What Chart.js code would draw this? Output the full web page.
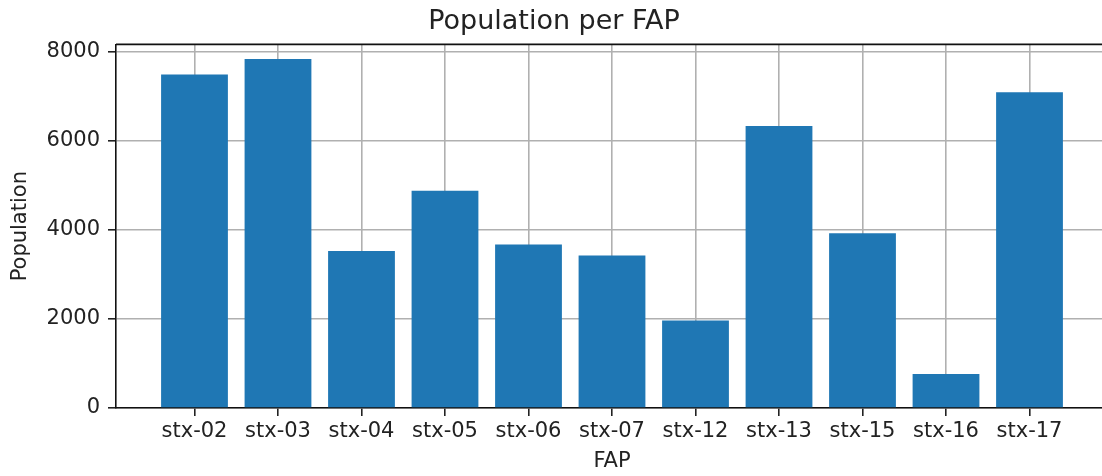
<!DOCTYPE html>
<html>
<head>
<meta charset="utf-8">
<script src="https://cdn.jsdelivr.net/npm/chart.js@4"></script>
<style>
  html, body { margin: 0; padding: 0; background: #fff; overflow: hidden; }
  #wrap { width: 1120px; height: 476px; }
</style>
</head>
<body>
<div id="wrap"><canvas id="popChart"></canvas></div>
<script>
// data
const faps = ["stx-02", "stx-03", "stx-04", "stx-05", "stx-06", "stx-07", "stx-12", "stx-13", "stx-15", "stx-16", "stx-17"];
const population = [7488, 7833, 3527, 4877, 3669, 3421, 1967, 6333, 3925, 765, 7090];
const yTicks = [0, 2000, 4000, 6000, 8000];

const FONT = "'DejaVu Sans', sans-serif";
const TEXT = "#222";

// matplotlib draws the top spine too
const topSpine = {
  id: "topSpine",
  afterDraw(chart) {
    const { ctx, chartArea } = chart;
    ctx.save();
    ctx.strokeStyle = "#111";
    ctx.lineWidth = 1.6;
    ctx.beginPath();
    ctx.moveTo(chartArea.left, chartArea.top);
    ctx.lineTo(chartArea.right, chartArea.top);
    ctx.stroke();
    ctx.restore();
  }
};

new Chart(document.getElementById("popChart"), {
  type: "bar",
  data: {
    datasets: [{
      label: "Population",
      data: population.map((v, i) => ({ x: i, y: v })),
      backgroundColor: "#1f77b4",
      borderWidth: 0,
      barPercentage: 0.8,
      categoryPercentage: 1.0,
    }],
  },
  options: {
    responsive: true,
    maintainAspectRatio: false,
    animation: false,
    layout: { padding: { left: 0, right: 12, top: 0, bottom: 0 } },
    plugins: {
      legend: { display: false },
      tooltip: { enabled: false },
      title: {
        display: true,
        text: "Population per FAP",
        color: TEXT,
        font: { family: FONT, size: 27, weight: "normal" },
        padding: { top: 6, bottom: 6 },
      },
    },
    scales: {
      x: {
        type: "linear",
        min: -0.94,
        max: 10.94,
        offset: false,
        z: 1,
        afterBuildTicks: (scale) => { scale.ticks = faps.map((_, i) => ({ value: i })); },
        afterFit: (scale) => { scale.height = 68; },
        grid: { offset: false, color: "#b0b0b0", lineWidth: 1.6, tickColor: "#222", tickLength: 8 },
        border: { display: true, color: "#111", width: 1.6 },
        ticks: {
          color: TEXT,
          font: { family: FONT, size: 21 },
          padding: 3,
          maxRotation: 0,
          minRotation: 0,
          autoSkip: false,
          callback: (v) => faps[v] ?? "",
        },
        title: {
          display: true,
          text: "FAP",
          color: TEXT,
          font: { family: FONT, size: 21 },
          padding: { top: 0, bottom: 2 },
        },
      },
      y: {
        min: 0,
        max: 8163,
        z: 1,
        afterBuildTicks: (scale) => { scale.ticks = yTicks.map((v) => ({ value: v })); },
        afterFit: (scale) => { scale.width = 116; },
        grid: { color: "#b0b0b0", lineWidth: 1.6, tickColor: "#222", tickLength: 8 },
        border: { display: true, color: "#111", width: 1.6 },
        ticks: {
          color: TEXT,
          font: { family: FONT, size: 21 },
          padding: 8,
          callback: (v) => String(v),
        },
        title: {
          display: true,
          text: "Population",
          color: TEXT,
          font: { family: FONT, size: 21 },
          padding: { top: 8, bottom: 0 },
        },
      },
    },
  },
  plugins: [topSpine],
});
</script>
</body>
</html>
